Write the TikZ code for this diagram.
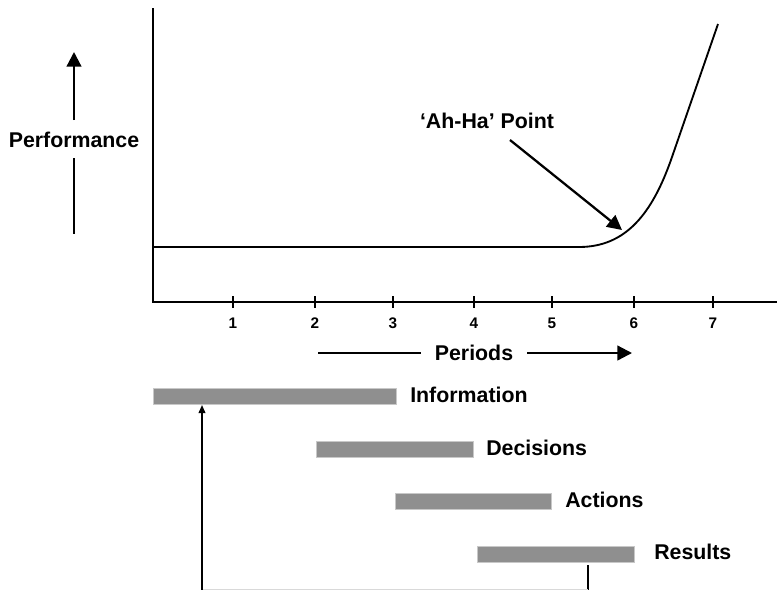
\documentclass[tikz,border=0pt]{standalone}
\usepackage{fontspec}
\setmainfont{Liberation Sans}
\usetikzlibrary{arrows.meta}
\definecolor{bargray}{RGB}{143,143,143}
\definecolor{bargrayedge}{RGB}{200,200,200}
\tikzset{
  lbl/.style={font=\bfseries\fontsize{16}{18}\selectfont, inner sep=0pt},
  ticklbl/.style={font=\bfseries\fontsize{11.5}{13}\selectfont, inner sep=0pt},
  axisline/.style={line width=1.5pt},
  bigarrow/.style={line width=1.7pt, -{Triangle[length=11pt,width=11pt]}},
  plainline/.style={line width=1.7pt},
  bar/.style={fill=bargray, draw=bargrayedge, line width=0.6pt, inner sep=0pt, anchor=north west, minimum height=16*0.75pt},
  thinarrow/.style={line width=1.1pt, -{Triangle[length=6pt,width=5pt]}},
}
\begin{document}
\begin{tikzpicture}[x=0.75pt,y=-0.75pt]
\useasboundingbox (0,0) rectangle (777,590);
% axes
\coordinate (ytop) at (153,8);
\coordinate (orig) at (153,302);
\coordinate (xend) at (777,302);
\draw[axisline] (ytop) -- (orig) -- (xend);
% ticks and labels
\foreach \n/\x in {1/233,2/315,3/393,4/474,5/552,6/634,7/713}{
  \coordinate (t\n) at (\x,302);
  \draw[line width=1pt] ([yshift=4.5]t\n) -- ([yshift=-4.5]t\n);
  \node[ticklbl] (tl\n) at (\x,323) {\n};
}
% performance curve
\coordinate (c0) at (153,247);
\coordinate (c1) at (579,247);
\coordinate (c2) at (672,157);
\coordinate (c3) at (718,24);
\draw[line width=1.4pt, line join=round] (c0) -- (c1) .. controls (625,247) and (652,215) .. (c2) -- (c3);
% Ah-Ha
\node[lbl] (aha) at (487,121) {‘Ah-Ha’ Point};
\coordinate (ahatip) at (622,230);
\coordinate (ahastart) at (510,140);
\draw[bigarrow] (ahastart) -- (ahatip);
% Performance
\node[lbl] (perf) at (74,140) {Performance};
\coordinate (pupbase) at (74,120);
\coordinate (pup) at (74,52);
\coordinate (pdownbase) at (74,158);
\coordinate (pdown) at (74,234);
\draw[bigarrow] (pupbase) -- (pup);
\draw[plainline] (pdownbase) -- (pdown);
% Periods
\node[lbl] (periods) at (474,353) {Periods};
\coordinate (pl) at (318,353);
\coordinate (plend) at (421,353);
\coordinate (prstart) at (527,353);
\coordinate (pr) at (632,353);
\draw[plainline] (pl) -- (plend);
\draw[bigarrow] (prstart) -- (pr);
% bars
\node[bar, minimum width=243*0.75pt] (binfo) at (153,388) {};
\node[bar, minimum width=157*0.75pt] (bdec) at (316,441) {};
\node[bar, minimum width=156*0.75pt] (bact) at (395,493) {};
\node[bar, minimum width=157*0.75pt] (bres) at (477,546) {};
\node[lbl, anchor=west] (linfo) at (410,395) {Information};
\node[lbl, anchor=west] (ldec) at (486,448) {Decisions};
\node[lbl, anchor=west] (lact) at (565,500) {Actions};
\node[lbl, anchor=west] (lres) at (654,552) {Results};
% feedback loop
\coordinate (fbtop) at (588,565);
\coordinate (fbbr) at (588,589.5);
\coordinate (fbbl) at (202,589.5);
\coordinate (fbtip) at (202,405);
\draw[line width=1.1pt] (fbtop) -- (fbbr);
\draw[line width=0.8pt, black!15] (fbbr) -- (fbbl);
\draw[thinarrow] (fbbl) -- (fbtip);
\end{tikzpicture}
\end{document}
